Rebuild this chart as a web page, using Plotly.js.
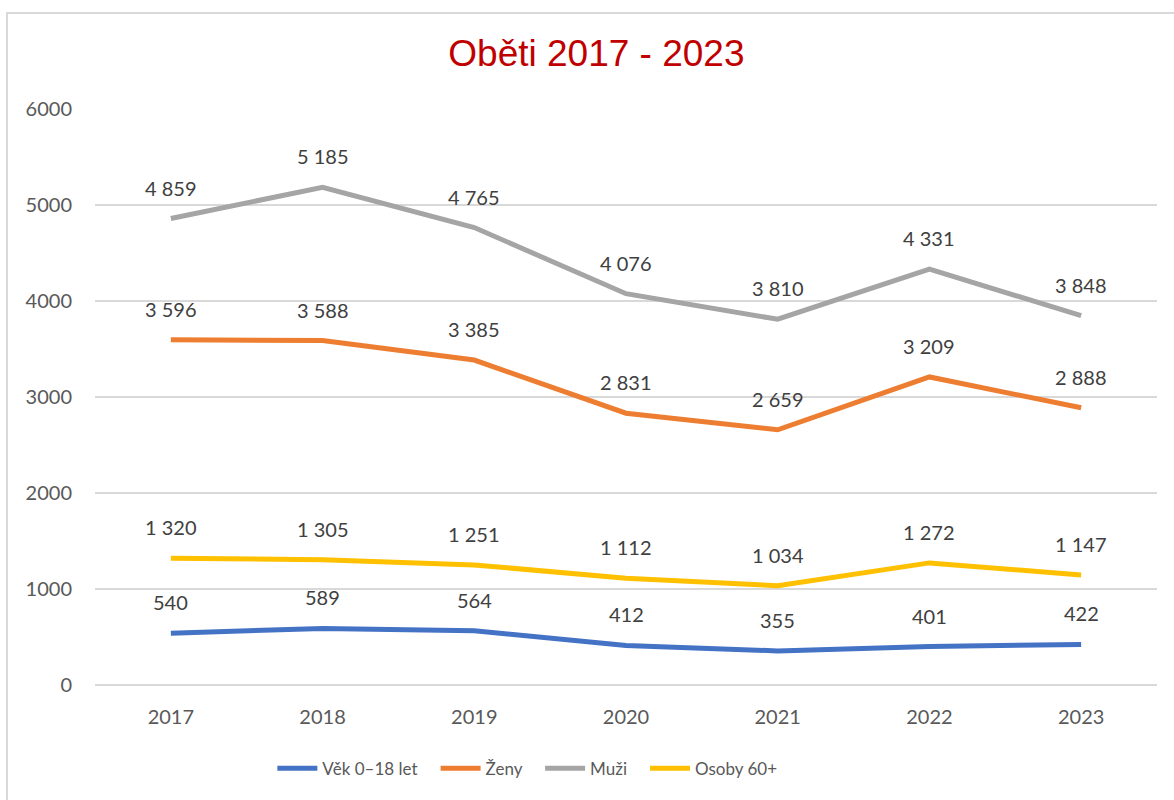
<!DOCTYPE html>
<html><head><meta charset="utf-8">
<script src="https://cdn.plot.ly/plotly-3.0.1.min.js"></script>
<style>
html,body{margin:0;padding:0;background:#fff;}
#wrap{position:relative;width:1174px;height:800px;overflow:hidden;}
#frame{position:absolute;left:6px;top:12px;width:1200px;height:820px;border:2px solid #d9d9d9;box-sizing:border-box;pointer-events:none;z-index:5;}
#chart{position:absolute;left:0;top:0;width:1174px;height:800px;}
</style></head>
<body><div id="wrap"><div id="chart"></div><div id="frame"></div></div>
<script>
const years = ['2017','2018','2019','2020','2021','2022','2023'];
const vek = [540, 589, 564, 412, 355, 401, 422];
const zeny = [3596, 3588, 3385, 2831, 2659, 3209, 2888];
const muzi = [4859, 5185, 4765, 4076, 3810, 4331, 3848];
const osoby = [1320, 1305, 1251, 1112, 1034, 1272, 1147];
const names = ['Věk 0–18 let', 'Ženy', 'Muži', 'Osoby 60+'];
const colors = ['#4472C4', '#ED7D31', '#A5A5A5', '#FFC000'];
const series = [vek, zeny, muzi, osoby];

function fmt(v){ return String(v).replace(/\B(?=(\d{3})+(?!\d))/g, '\u00a0'); }

const font = "Lato, 'Open Sans', sans-serif";
const pad = '\u00a0\u00a0\u00a0';
const traces = series.map((s, i) => ({
  x: years.map((_, j) => j), y: s, type: 'scatter', mode: 'lines', name: names[i] + (i < 3 ? pad : ''),
  line: {color: colors[i], width: 5}, hoverinfo: 'skip'
}));
const annotations = [];
series.forEach(s => s.forEach((v, j) => annotations.push({
  x: j, y: v, xref: 'x', yref: 'y', text: fmt(v), showarrow: false,
  yshift: 31, font: {family: font, size: 20, color: '#404040'}
})));

const layout = {
  width: 1174, height: 800,
  margin: {l: 95, r: 17, t: 109, b: 115},
  paper_bgcolor: '#fff', plot_bgcolor: '#fff',
  title: {text: 'Oběti 2017 - 2023', x: 0.508, xanchor: 'center', y: 0.934, yanchor: 'middle',
          font: {family: "'Liberation Sans', Arial, sans-serif", size: 37, color: '#C00000'}},
  xaxis: {type: 'linear', range: [-0.5, 6.5], tickmode: 'array', tickvals: years.map((_, j) => j), ticktext: years,
          showgrid: false, zeroline: false, showline: false,
          ticks: '', ticklabelstandoff: 18, tickfont: {family: font, size: 20, color: '#595959'}, fixedrange: true},
  yaxis: {range: [0, 6000], dtick: 1000, tick0: 0, showgrid: true, gridcolor: '#d9d9d9', gridwidth: 1.5,
          zeroline: true, zerolinecolor: '#d9d9d9', zerolinewidth: 1.5, showline: false, ticks: '',
          ticklabelstandoff: 22, tickfont: {family: font, size: 20, color: '#595959'}, fixedrange: true},
  showlegend: true,
  legend: {orientation: 'h', xref: 'container', yref: 'container', x: 0.232, xanchor: 'left', y: 0.039, yanchor: 'middle',
           font: {family: font, size: 17, color: '#595959'}, itemwidth: 40, tracegroupgap: 0},
  annotations: annotations
};
Plotly.newPlot('chart', traces, layout, {staticPlot: true, displayModeBar: false});
</script></body></html>
